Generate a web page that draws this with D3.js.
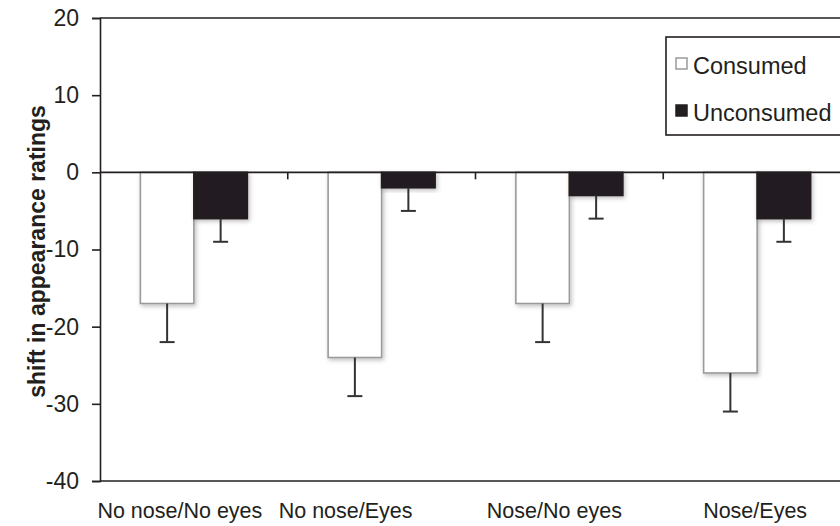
<!DOCTYPE html>
<html><head><meta charset="utf-8">
<script src="https://cdn.jsdelivr.net/npm/d3@7"></script>
<style>
html,body{margin:0;padding:0;background:#fff;}
svg{display:block;font-family:"Liberation Sans",Arial,Helvetica,sans-serif;}
</style></head>
<body>
<svg id="chart" width="840" height="526"></svg>
<script>
const categories = ["No nose/No eyes","No nose/Eyes","Nose/No eyes","Nose/Eyes"];
const seriesNames = ["Consumed","Unconsumed"];
const consumed = [-17,-24,-17,-26];
const consumedErr = [5,5,5,5];
const unconsumed = [-6,-2,-3,-6];
const unconsumedErr = [3,3,3,3];
const yTicks = [20,10,0,-10,-20,-30,-40];
const yTitle = "shift in appearance ratings";

(function(){
const svg = d3.select("#chart");
const ink = "#231f20";
const mLeft = 100, mRight = 851, mTop = 18, mBottom = 481;

const defs = svg.append("defs");
const f = defs.append("filter").attr("id","sh").attr("x","-20%").attr("y","-20%").attr("width","150%").attr("height","150%");
f.append("feDropShadow").attr("dx",1.5).attr("dy",2).attr("stdDeviation",2).attr("flood-color","#000").attr("flood-opacity",0.25);

const x0 = d3.scaleBand().domain(categories).range([mLeft, mRight]).paddingInner(0).paddingOuter(0);
const barW = 53.5;
const x1 = d3.scaleBand().domain(seriesNames).range([0, barW*2]);
const y = d3.scaleLinear().domain([-40, 20]).range([mBottom, mTop]);

// frame lines
svg.append("line").attr("x1",mLeft).attr("x2",840).attr("y1",y(20)).attr("y2",y(20)).attr("stroke",ink).attr("stroke-width",1.6);
svg.append("line").attr("x1",mLeft).attr("x2",840).attr("y1",y(-40)).attr("y2",y(-40)).attr("stroke",ink).attr("stroke-width",1.6);

// y axis
const yAxis = d3.axisLeft(y).tickValues(yTicks).tickSize(8).tickPadding(13).tickFormat(d=>String(d));
const gy = svg.append("g").attr("transform",`translate(${mLeft},0)`).call(yAxis);
gy.attr("font-size",null).attr("font-family",null);
gy.select(".domain").attr("stroke",ink).attr("stroke-width",1.6);
gy.selectAll(".tick line").attr("stroke",ink).attr("stroke-width",1.6);
gy.selectAll(".tick text").attr("fill",ink).attr("font-size",23).attr("font-family","'Liberation Sans',Arial,sans-serif");

// bars
const data = categories.map((c,i)=>({c, vals:[
  {s:"Consumed", v:consumed[i], e:consumedErr[i]},
  {s:"Unconsumed", v:unconsumed[i], e:unconsumedErr[i]}
]}));
const groups = svg.selectAll("g.grp").data(data).enter().append("g").attr("class","grp")
  .attr("transform", d => `translate(${x0(d.c) + x0.bandwidth()/2 - barW},0)`);

groups.selectAll("rect").data(d=>d.vals).enter().append("rect")
  .attr("x", d=>x1(d.s)).attr("width", x1.bandwidth())
  .attr("y", d=>y(Math.max(0,d.v))).attr("height", d=>Math.abs(y(d.v)-y(0)))
  .attr("fill", d=> d.s==="Consumed" ? "#fff" : "#231f20")
  .attr("stroke", d=> d.s==="Consumed" ? "#9a9a9c" : "#231f20")
  .attr("stroke-width",1.6)
  .attr("filter","url(#sh)");

// error bars
const eb = groups.selectAll("g.eb").data(d=>d.vals).enter().append("g").attr("class","eb");
eb.append("line").attr("x1", d=>x1(d.s)+x1.bandwidth()/2).attr("x2", d=>x1(d.s)+x1.bandwidth()/2)
  .attr("y1", d=>y(d.v)).attr("y2", d=>y(d.v-d.e)).attr("stroke","#333").attr("stroke-width",2);
eb.append("line").attr("x1", d=>x1(d.s)+x1.bandwidth()/2-7.5).attr("x2", d=>x1(d.s)+x1.bandwidth()/2+7.5)
  .attr("y1", d=>y(d.v-d.e)).attr("y2", d=>y(d.v-d.e)).attr("stroke","#333").attr("stroke-width",2);

// zero line with category ticks
svg.append("line").attr("x1",mLeft).attr("x2",840).attr("y1",y(0)).attr("y2",y(0)).attr("stroke",ink).attr("stroke-width",1.6);
svg.selectAll("line.ctick").data(categories.slice(1)).enter().append("line").attr("class","ctick")
  .attr("x1",d=>x0(d)).attr("x2",d=>x0(d)).attr("y1",y(0)).attr("y2",y(0)+7).attr("stroke",ink).attr("stroke-width",1.6);

// x labels
const labelDx = [-14,-36,-15,-2];
svg.selectAll("text.xl").data(categories).enter().append("text").attr("class","xl")
  .attr("x",(d,i)=>x0(d)+x0.bandwidth()/2+labelDx[i]).attr("y",518)
  .attr("text-anchor","middle").attr("fill",ink).attr("font-size",21.5).text(d=>d);

// y title
svg.append("text").attr("transform",`translate(45,${(y(-40)+y(20))/2+2}) rotate(-90)`)
  .attr("text-anchor","middle").attr("fill",ink).attr("font-size",23).attr("font-weight","bold").text(yTitle);

// legend
const lg = svg.append("g");
lg.append("rect").attr("x",666).attr("y",37).attr("width",220).attr("height",98).attr("fill","#fff").attr("stroke",ink).attr("stroke-width",1.6);
const li = lg.selectAll("g.li").data(seriesNames).enter().append("g").attr("class","li")
  .attr("transform",(d,i)=>`translate(676,${58+i*47})`);
li.append("rect").attr("width",11).attr("height",11)
  .attr("fill",d=>d==="Consumed"?"#fff":"#231f20").attr("stroke",d=>d==="Consumed"?"#9a9a9c":"#231f20").attr("stroke-width",1.5);
li.append("text").attr("x",17).attr("y",15.5).attr("fill",ink).attr("font-size",23.5).text(d=>d);
})();
</script>
</body></html>
